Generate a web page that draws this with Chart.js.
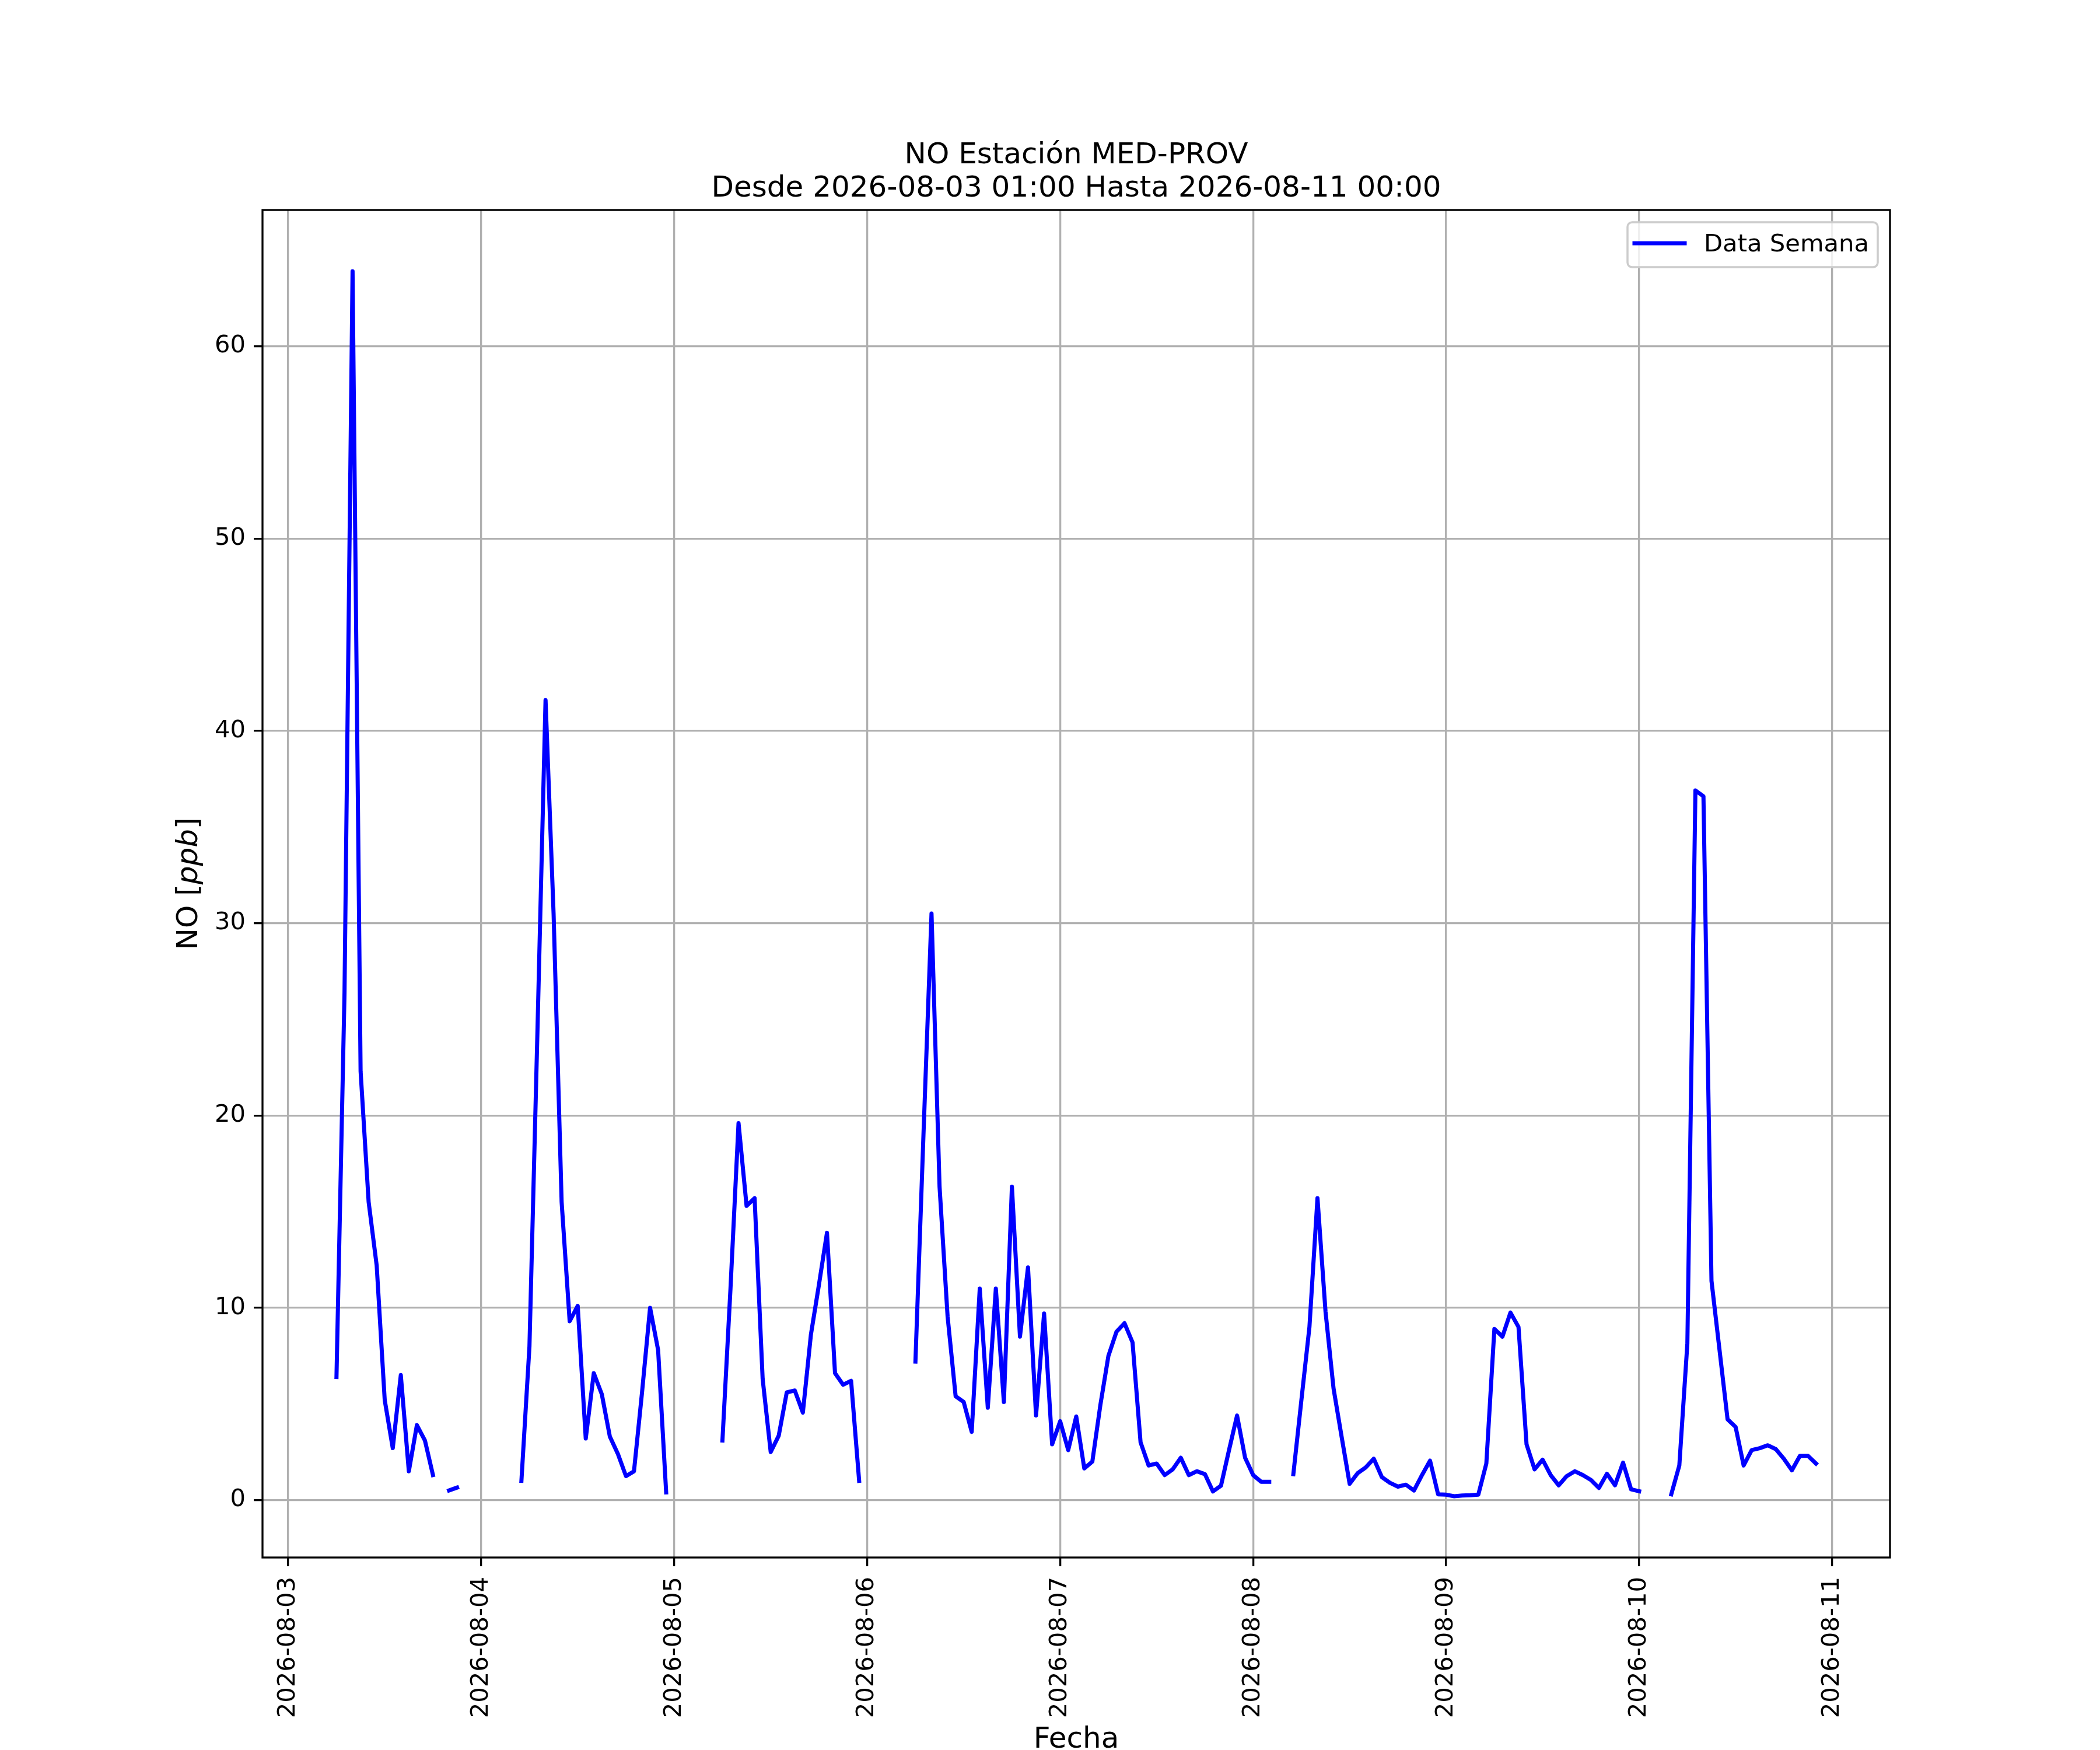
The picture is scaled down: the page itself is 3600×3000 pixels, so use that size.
<!DOCTYPE html>
<html>
<head>
<meta charset="utf-8">
<script src="https://cdn.jsdelivr.net/npm/chart.js@4.4.1/dist/chart.umd.min.js"></script>
<style>
html, body { margin: 0; padding: 0; background: #ffffff; }
#wrap { width: 3600px; height: 3000px; }
</style>
</head>
<body>
<div id="wrap"><canvas id="c" width="3600" height="3000"></canvas></div>
<script>
// Hourly NO values [ppb], hours 00..23 of each day (null = missing)
const day03 = [null, null, null, null, null, null, 6.4, 26.4, 63.9, 22.3, 15.5, 12.2, 5.2, 2.7, 6.5, 1.5, 3.9, 3.1, 1.3, null, 0.5, 0.65, null, null];
const day04 = [null, null, null, null, null, 1.0, 8.0, 24.5, 41.6, 30.5, 15.5, 9.3, 10.1, 3.2, 6.6, 5.5, 3.3, 2.4, 1.25, 1.5, 5.6, 10.0, 7.8, 0.4];
const day05 = [null, null, null, null, null, null, 3.1, 11.0, 19.6, 15.3, 15.7, 6.3, 2.5, 3.35, 5.6, 5.7, 4.55, 8.6, 11.2, 13.9, 6.6, 6.0, 6.2, 1.0];
const day06 = [null, null, null, null, null, null, 7.2, 19.0, 30.5, 16.3, 9.55, 5.4, 5.1, 3.55, 11.0, 4.8, 11.0, 5.1, 16.3, 8.5, 12.1, 4.4, 9.7, 2.9];
const day07 = [4.1, 2.6, 4.35, 1.65, 2.0, 4.95, 7.5, 8.75, 9.2, 8.2, 3.0, 1.8, 1.9, 1.3, 1.6, 2.2, 1.3, 1.5, 1.35, 0.45, 0.75, 2.6, 4.4, 2.2];
const day08 = [1.3, 0.95, 0.95, null, null, 1.35, 5.2, 9.0, 15.7, 9.8, 5.8, 3.3, 0.85, 1.4, 1.7, 2.15, 1.2, 0.9, 0.7, 0.8, 0.5, 1.3, 2.05, 0.3];
const day09 = [0.28, 0.2, 0.24, 0.25, 0.28, 1.9, 8.9, 8.5, 9.75, 9.0, 2.9, 1.6, 2.1, 1.3, 0.77, 1.25, 1.5, 1.3, 1.05, 0.63, 1.37, 0.77, 1.95, 0.56];
const day10 = [0.46, null, null, null, 0.3, 1.8, 8.15, 36.9, 36.6, 11.4, 7.8, 4.2, 3.8, 1.8, 2.6, 2.7, 2.85, 2.65, 2.15, 1.55, 2.3, 2.3, 1.9, null];
const day11 = [null]; // 2026-08-11 00:00

const xTickLabels = ['2026-08-03', '2026-08-04', '2026-08-05', '2026-08-06', '2026-08-07', '2026-08-08', '2026-08-09', '2026-08-10', '2026-08-11'];
const yTickValues = [0, 10, 20, 30, 40, 50, 60];
const titleLines = ['NO Estación MED-PROV', 'Desde 2026-08-03 01:00 Hasta 2026-08-11 00:00'];
const seriesLabel = 'Data Semana';

// Build points: x = hours since 2026-08-03 00:00, series starts at 01:00
const dayArrays = [day03, day04, day05, day06, day07, day08, day09, day10, day11];
const points = [];
dayArrays.forEach((arr, d) => {
  arr.forEach((v, h) => {
    const x = d * 24 + h;
    if (x >= 1) points.push({ x: x, y: v });
  });
});
const tickHours = xTickLabels.map((_, i) => i * 24);

// matplotlib-like autoscale (5% margins on valid data)
const valid = points.filter(p => p.y !== null);
const xs = valid.map(p => p.x), ys = valid.map(p => p.y);
const xLo = Math.min(...xs), xHi = Math.max(...xs);
const yLo = Math.min(...ys), yHi = Math.max(...ys);
const xMin = xLo - 0.05 * (xHi - xLo), xMax = xHi + 0.05 * (xHi - xLo);
const yMin = yLo - 0.05 * (yHi - yLo), yMax = yHi + 0.05 * (yHi - yLo);

const FONT = 'DejaVu Sans';
Chart.defaults.font.family = FONT;
Chart.defaults.color = '#000000';

const decor = {
  id: 'decor',
  afterDatasetsDraw(chart) {
    const { ctx, chartArea: a } = chart;
    ctx.save();
    ctx.strokeStyle = '#000000';
    ctx.lineWidth = 3.3;
    ctx.strokeRect(a.left, a.top, a.right - a.left, a.bottom - a.top);
    ctx.restore();
  },
  afterDraw(chart) {
    const { ctx, chartArea: a } = chart;
    const cxMid = (a.left + a.right) / 2;
    ctx.save();
    ctx.fillStyle = '#000000';
    ctx.textBaseline = 'alphabetic';

    // Title (centred over the axes)
    ctx.font = '50px "' + FONT + '"';
    ctx.textAlign = 'center';
    ctx.fillText(titleLines[0], cxMid, 280);
    ctx.fillText(titleLines[1], cxMid, 337);

    // Legend
    const bw = 429, bh = 77;
    const bx = a.right - 21 - bw, by = a.top + 21;
    ctx.beginPath();
    ctx.roundRect(bx, by, bw, bh, 8);
    ctx.fillStyle = 'rgba(255,255,255,0.8)';
    ctx.fill();
    ctx.strokeStyle = '#cccccc';
    ctx.lineWidth = 3.5;
    ctx.stroke();
    ctx.beginPath();
    ctx.moveTo(bx + 12, by + 36);
    ctx.lineTo(bx + 98, by + 36);
    ctx.strokeStyle = '#0000ff';
    ctx.lineWidth = 7;
    ctx.lineCap = 'square';
    ctx.stroke();
    ctx.fillStyle = '#000000';
    ctx.font = '41.7px "' + FONT + '"';
    ctx.textAlign = 'left';
    ctx.fillText(seriesLabel, bx + 131, by + 50);

    // X axis title
    ctx.font = '50px "' + FONT + '"';
    ctx.textAlign = 'center';
    ctx.fillText('Fecha', cxMid, 2996);

    // Y axis title: NO [ppb] with italic ppb
    const parts = [
      { t: 'NO [', f: '50px "' + FONT + '"' },
      { t: 'ppb', f: 'italic 50px "' + FONT + '"' },
      { t: ']', f: '50px "' + FONT + '"' }
    ];
    let total = 0;
    parts.forEach(p => { ctx.font = p.f; p.w = ctx.measureText(p.t).width; total += p.w; });
    ctx.translate(338, (a.top + a.bottom) / 2);
    ctx.rotate(-Math.PI / 2);
    ctx.textAlign = 'left';
    let cx = -total / 2;
    parts.forEach(p => { ctx.font = p.f; ctx.fillText(p.t, cx, 0); cx += p.w; });
    ctx.restore();
  }
};

new Chart(document.getElementById('c'), {
  type: 'line',
  data: {
    datasets: [{
      label: seriesLabel,
      data: points,
      borderColor: '#0000ff',
      backgroundColor: '#0000ff',
      borderWidth: 7,
      pointRadius: 0,
      pointHoverRadius: 0,
      tension: 0,
      spanGaps: false,
      borderCapStyle: 'square',
      borderJoinStyle: 'round',
      fill: false
    }]
  },
  options: {
    responsive: false,
    maintainAspectRatio: false,
    devicePixelRatio: 1,
    animation: false,
    events: [],
    layout: { padding: { left: 0, right: 360, top: 360, bottom: 0 } },
    plugins: {
      legend: { display: false },
      tooltip: { enabled: false },
      title: { display: false }
    },
    scales: {
      x: {
        type: 'linear',
        position: 'bottom',
        min: xMin,
        max: xMax,
        afterBuildTicks: (s) => { s.ticks = tickHours.map(v => ({ value: v })); },
        afterFit: (s) => { s.height = 330; },
        ticks: {
          autoSkip: false,
          maxRotation: 90,
          minRotation: 90,
          padding: 18,
          color: '#000000',
          font: { family: FONT, size: 41.7 },
          callback: (v, i) => xTickLabels[i]
        },
        grid: { color: '#b0b0b0', lineWidth: 3.3, tickLength: 15, tickColor: '#000000', tickWidth: 3.3 },
        border: { display: false }
      },
      y: {
        type: 'linear',
        position: 'left',
        min: yMin,
        max: yMax,
        afterBuildTicks: (s) => { s.ticks = yTickValues.map(v => ({ value: v })); },
        afterFit: (s) => { s.width = 450; },
        ticks: {
          padding: 14,
          color: '#000000',
          font: { family: FONT, size: 41.7 },
          callback: (v) => String(v)
        },
        grid: { color: '#b0b0b0', lineWidth: 3.3, tickLength: 15, tickColor: '#000000', tickWidth: 3.3 },
        border: { display: false }
      }
    }
  },
  plugins: [decor]
});
</script>
</body>
</html>
